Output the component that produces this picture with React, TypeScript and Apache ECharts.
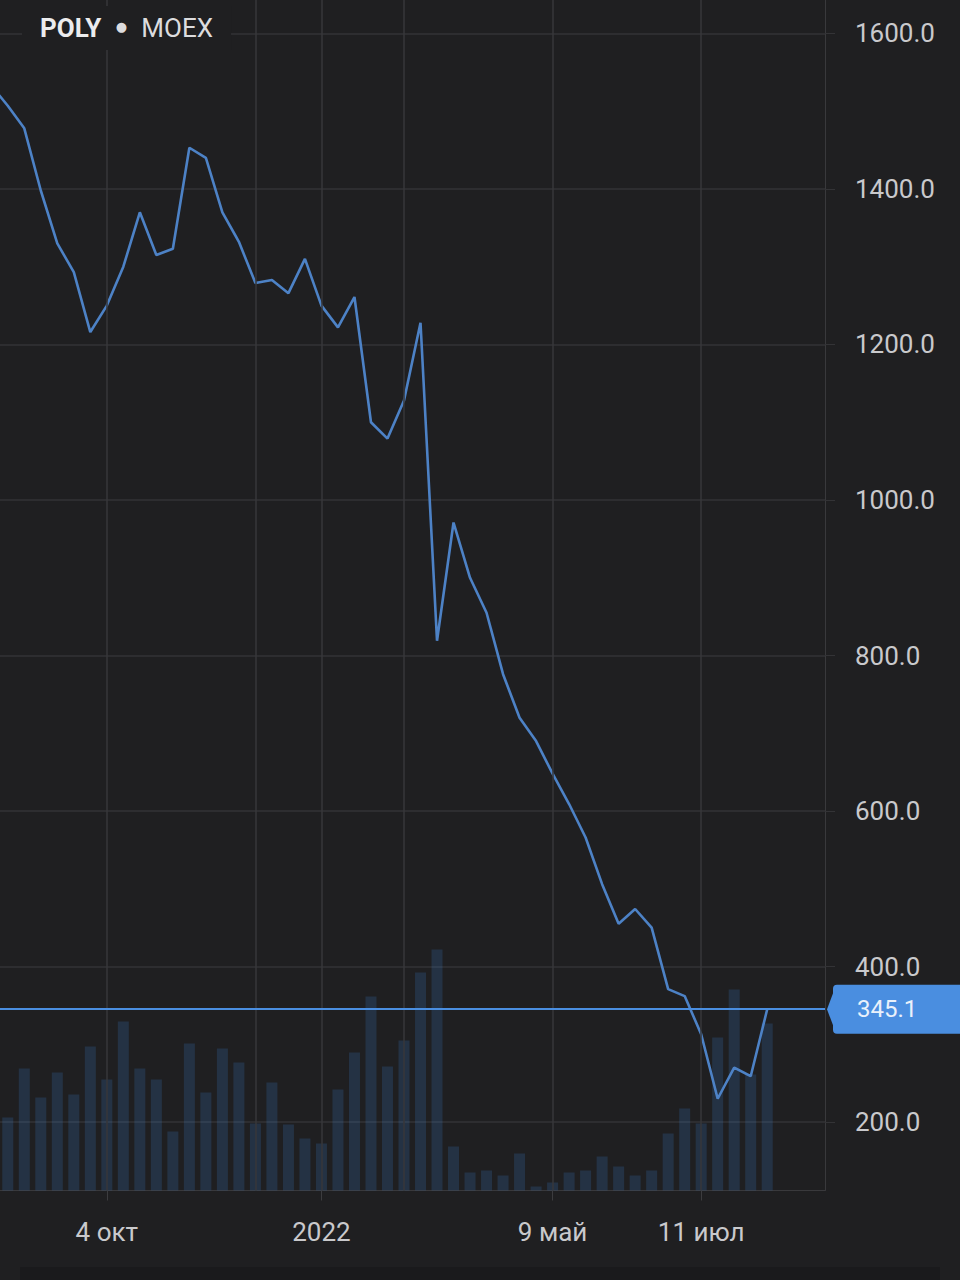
import React, { useEffect, useRef } from "react";
import * as echarts from "echarts";

// Weekly sessions (MOEX closed end of Feb – late Mar 2022, those weeks are absent)
const dates = [
  "16 авг", "23 авг", "30 авг", "6 сен", "13 сен", "20 сен", "27 сен", "4 окт", "11 окт", "18 окт",
  "25 окт", "1 ноя", "8 ноя", "15 ноя", "22 ноя", "29 ноя", "6 дек", "13 дек", "20 дек", "27 дек",
  "2022", "10 янв", "17 янв", "24 янв", "31 янв", "7 фев", "14 фев", "21 фев", "28 мар", "4 апр",
  "11 апр", "18 апр", "25 апр", "2 май", "9 май", "16 май", "23 май", "30 май", "6 июн", "13 июн",
  "20 июн", "27 июн", "4 июл", "11 июл", "18 июл", "25 июл", "1 авг", "8 авг", "15 авг", "22 авг",
  "29 авг",
];

const prices = [
  1533, 1507, 1478, 1398, 1330, 1293, 1216, 1250, 1300, 1370,
  1315, 1323, 1453, 1440, 1370, 1332, 1279, 1283, 1266, 1310,
  1250, 1222, 1261, 1100, 1079, 1128, 1228, 819, 971, 900,
  855, 776, 720, 690, 648, 609, 566, 506, 455, 474,
  450, 371, 362, 313, 230, 270, 259, 345.1, null, null,
  null,
];

const volumes = [
  null, 73, 122, 93, 118, 96, 144, 111, 169, 122,
  111, 59, 147, 98, 142, 128, 67, 108, 66, 52,
  47, 101, 138, 194, 124, 150, 218, 241, 44, 18,
  20, 15, 37, 4, 8, 18, 20, 34, 24, 15,
  20, 57, 82, 67, 153, 201, 116, 167, null, null,
  null,
];

const labeledDates = ["4 окт", "2022", "9 май", "11 июл"];
const gridDates = ["4 окт", "6 дек", "2022", "7 фев", "9 май", "11 июл"];
const priceTicks = [200, 400, 600, 800, 1000, 1200, 1400, 1600];
const lastPrice = 345.1;
const ticker = "POLY";
const exchange = "MOEX";

// the chart canvas starts a little left of the page so the first week is cut off
const SHIFT = 17;

export default function App() {
  const ref = useRef<HTMLDivElement>(null);

  useEffect(() => {
    const chart = echarts.init(ref.current!, null, { renderer: "svg" });
    const BG = "#1f1f21";
    const GRID = "#333336";
    const TEXT = "#c9c9cc";
    const FONT = "Roboto, 'Noto Sans', sans-serif";
    const isLabeled = (i: number) => labeledDates.includes(dates[i]);

    chart.setOption({
      animation: false,
      backgroundColor: BG,
      textStyle: { fontFamily: FONT },
      grid: { left: 0, right: 135, top: 0, height: 1190.5, containLabel: false },
      xAxis: {
        type: "category",
        data: dates,
        boundaryGap: true,
        axisLine: { show: true, lineStyle: { color: "#39393c", width: 1 } },
        axisTick: {
          show: true,
          alignWithLabel: true,
          length: 10,
          interval: (i: number) => isLabeled(i),
          lineStyle: { color: "#3c3c3f" },
        },
        axisLabel: {
          interval: (i: number) => isLabeled(i),
          color: TEXT,
          fontSize: 26,
          fontFamily: FONT,
          margin: 28,
        },
        splitLine: { show: false },
      },
      yAxis: [
        {
          type: "value",
          position: "right",
          min: 112,
          max: 1643,
          axisLine: { show: true, lineStyle: { color: "#39393c", width: 1 } },
          axisTick: {
            show: true,
            length: 10,
            customValues: priceTicks,
            lineStyle: { color: GRID },
          },
          axisLabel: {
            customValues: priceTicks,
            color: TEXT,
            fontSize: 26,
            fontFamily: FONT,
            margin: 30,
            formatter: (v: number) => v.toFixed(1),
          },
          splitLine: { show: true, lineStyle: { color: GRID, width: 1.5 } },
        },
        {
          type: "value",
          min: 0,
          max: 1190,
          show: false,
          splitLine: { show: false },
        },
      ],
      series: [
        {
          type: "bar",
          yAxisIndex: 1,
          data: volumes,
          barWidth: 11,
          itemStyle: { color: "rgba(62,130,210,0.2)" },
          z: 1,
          markLine: {
            silent: true,
            symbol: "none",
            label: { show: false },
            lineStyle: { color: "#37373a", width: 1.5, type: "solid" },
            data: gridDates.map((d) => ({ xAxis: d })),
          },
        },
        {
          type: "line",
          yAxisIndex: 0,
          data: prices,
          showSymbol: false,
          symbol: "none",
          connectNulls: false,
          lineStyle: { color: "#4d82c6", width: 2.6 },
          z: 3,
          markLine: {
            silent: true,
            symbol: "none",
            lineStyle: { color: "#4a8ee0", width: 2, type: "solid" },
            label: {
              show: true,
              position: "end",
              distance: 8,
              formatter: () => lastPrice.toFixed(1),
              color: "#e9f1fb",
              fontSize: 24,
              fontFamily: FONT,
              backgroundColor: "#4a8ee0",
              padding: [13, 60, 12, 24],
              borderRadius: [4, 0, 0, 4],
            },
            data: [{ yAxis: lastPrice }],
          },
        },
      ],
      graphic: [
        {
          type: "text",
          left: 22 + SHIFT,
          top: 6,
          z: 10,
          style: {
            text: `{b|${ticker}}{d|  ●  }{r|${exchange}}`,
            backgroundColor: BG,
            padding: [9, 18, 9, 18],
            rich: {
              b: { fontSize: 26, fontWeight: "bold", fill: "#ececee", fontFamily: FONT },
              d: { fontSize: 13, fill: "#dcdcde", fontFamily: "'DejaVu Sans'", padding: [0, 6, 4, 6] },
              r: { fontSize: 26, fill: "#dcdcde", fontFamily: FONT },
            },
          },
        },
        {
          type: "rect",
          shape: { x: 20 + SHIFT, y: 1267, width: 920, height: 13 },
          style: { fill: "#1a1a1c" },
          z: 10,
        },
      ],
    });

    const py = chart.convertToPixel({ yAxisIndex: 0 }, lastPrice) as number;
    const gx = chart.convertToPixel({ xAxisIndex: 0 }, dates[dates.length - 1]) as number;
    const bandHalf = (gx - (chart.convertToPixel({ xAxisIndex: 0 }, dates[dates.length - 2]) as number)) / 2;
    const axisX = gx + bandHalf;
    chart.setOption({
      graphic: [
        {
          id: "tip",
          type: "polygon",
          z: 5,
          shape: {
            points: [
              [axisX + 2, py],
              [axisX + 11, py - 24],
              [axisX + 11, py + 24],
            ],
          },
          style: { fill: "#4a8ee0" },
        },
      ],
    });

    return () => chart.dispose();
  }, []);

  return (
    <div
      ref={ref}
      style={{ position: "fixed", left: -SHIFT, top: 0, width: 960 + SHIFT, height: 1280 }}
    />
  );
}
